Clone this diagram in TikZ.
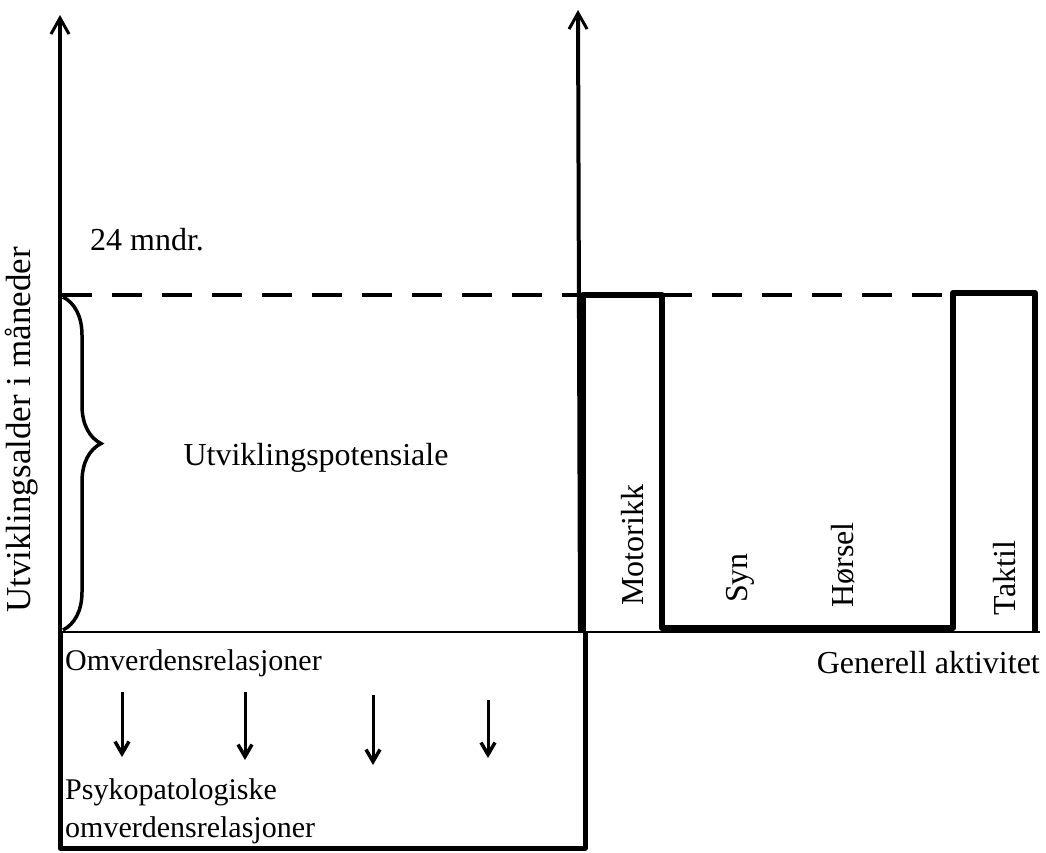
\documentclass[tikz,border=0pt]{standalone}
\usepackage{fontspec}
\setmainfont{Liberation Serif}
\usetikzlibrary{arrows.meta}
\usetikzlibrary{decorations.pathreplacing}

\begin{document}
\begin{tikzpicture}[x=1pt,y=-1pt,inner sep=0pt,
    font=\fontsize{32}{36}\selectfont,
    axis/.style={line width=4pt,-{Straight Barb[length=16pt,width=18pt,line width=3pt]}},
    thickbox/.style={line width=6pt,line join=round},
    downarrow/.style={line width=3pt,-{Straight Barb[length=12pt,width=14pt,line width=3.5pt]}}]

  % ramme for bildet
  \useasboundingbox (0,0) rectangle (1046,852);

  % akser
  \coordinate (origo) at (60,632);
  \coordinate (topp1) at (60,15);
  \coordinate (akse2) at (580,632);
  \coordinate (topp2) at (578,10);
  \coordinate (slutt) at (1040,632);
  \draw[axis] (60,848) -- (topp1);
  \draw[axis] (akse2) -- (topp2);
  \draw[line width=2.5pt] (origo) -- (slutt);

  % 24 mndr.
  \coordinate (dash0) at (62,295);
  \coordinate (dash1) at (953,295);
  \draw[line width=3.5pt,dash pattern=on 30pt off 20pt] (dash0) -- (dash1);
  \node[anchor=west] (mndr) at (90,240) {24 mndr.};

  % klamme
  \draw[line width=3.5pt,decorate,decoration={brace,amplitude=38pt,aspect=0.44}]
    (63,297) -- (63,630);
  \node (potensial) at (316,458) {Utviklingspotensiale};

  % sanser
  \draw[thickbox] (583,632) -- (583,295) -- (662,295) -- (662,628)
    -- (953,628) -- (953,293) -- (1035,293) -- (1035,632);
  \node[rotate=90] (motorikk) at (633,545) {Motorikk};
  \node[rotate=90] (syn) at (740,578) {Syn};
  \node[rotate=90] (horsel) at (843,565) {Hørsel};
  \node[rotate=90] (taktil) at (1005,578) {Taktil};
  \node[anchor=east] (aktivitet) at (1040,663) {Generell aktivitet};

  % y-akse tekst
  \node[rotate=90,font=\fontsize{35}{40}\selectfont] (alder) at (22,430) {Utviklingsalder i måneder};

  % omverdensrelasjoner
  \draw[line width=5pt,line join=round] (origo) -- (60,848) -- (585,848) -- (585,632);
  \begin{scope}[font=\fontsize{30}{34}\selectfont]
    \node[anchor=west] (omv) at (65,663) {Omverdensrelasjoner};
    \node[anchor=west] (psyk) at (65,792) {Psykopatologiske};
    \node[anchor=west] (psykomv) at (65,830) {omverdensrelasjoner};
  \end{scope}
  \foreach \i/\x/\ya/\yb in {1/122/692/757, 2/245/692/760, 3/373/695/765, 4/488/700/758}{
    \coordinate (fra\i) at (\x,\ya);
    \coordinate (til\i) at (\x,\yb);
    \draw[downarrow] (fra\i) -- (til\i);
  }
\end{tikzpicture}
\end{document}
